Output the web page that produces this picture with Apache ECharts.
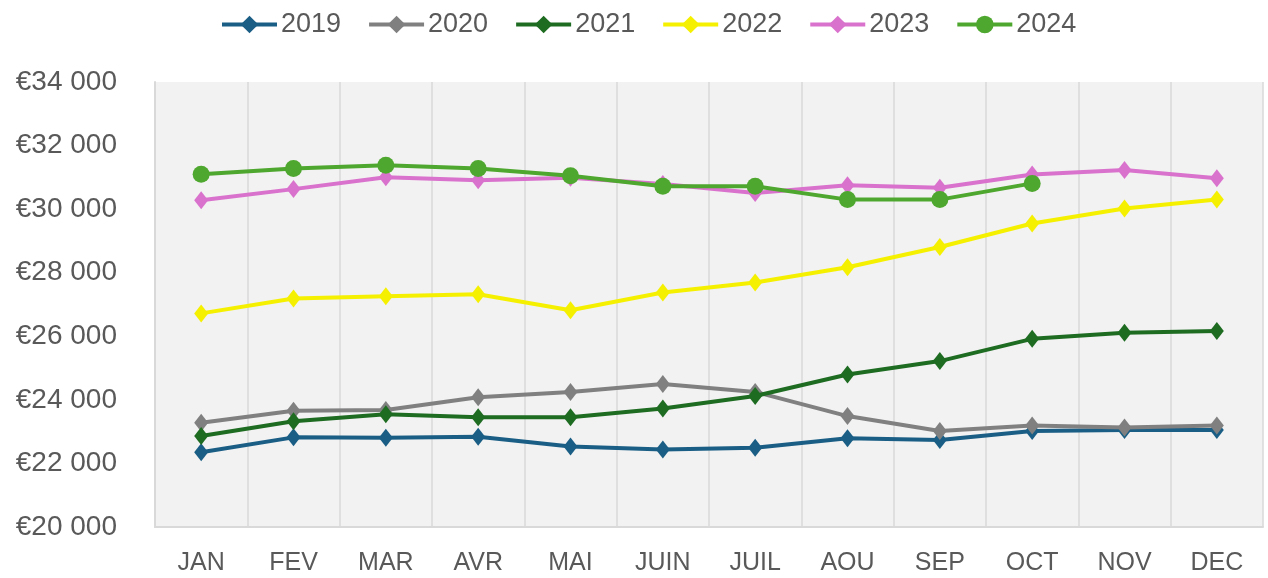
<!DOCTYPE html>
<html>
<head>
<meta charset="utf-8">
<script src="https://cdn.jsdelivr.net/npm/echarts@6/dist/echarts.min.js"></script>
<style>
  html, body { margin: 0; padding: 0; background: #fff; }
  #chart { width: 1268px; height: 578px; }
</style>
</head>
<body>
<div id="chart"></div>
<script>
const months = ['JAN', 'FEV', 'MAR', 'AVR', 'MAI', 'JUIN', 'JUIL', 'AOU', 'SEP', 'OCT', 'NOV', 'DEC'];
const years = ['2019', '2020', '2021', '2022', '2023', '2024'];

const values2019 = [22350, 22820, 22810, 22840, 22530, 22440, 22490, 22790, 22740, 23020, 23050, 23050];
const values2020 = [23280, 23660, 23680, 24080, 24250, 24500, 24250, 23490, 23020, 23190, 23130, 23190];
const values2021 = [22860, 23330, 23550, 23450, 23450, 23730, 24120, 24800, 25220, 25920, 26110, 26170];
const values2022 = [26720, 27190, 27260, 27320, 26820, 27380, 27690, 28170, 28810, 29550, 30020, 30300];
const values2023 = [30280, 30630, 31000, 30910, 30990, 30790, 30510, 30750, 30670, 31090, 31230, 30970];
const values2024 = [31100, 31280, 31380, 31280, 31050, 30720, 30720, 30300, 30300, 30810];

const yTicks = { min: 20000, max: 34000, interval: 2000 };

const colors = ['#1a5e85', '#808080', '#1e6b22', '#f5f000', '#d972cc', '#4ea72e'];
const allValues = [values2019, values2020, values2021, values2022, values2023, values2024];

const chart = echarts.init(document.getElementById('chart'));

const series = years.map((year, index) => {
  const isLast = index === years.length - 1;
  return {
    type: 'line',
    name: year,
    data: allValues[index],
    symbol: isLast ? 'circle' : 'diamond',
    symbolSize: isLast ? 17 : [14, 18],
    lineStyle: { width: 4, color: colors[index] },
    itemStyle: { color: colors[index] },
    z: 2 + index,
  };
});

const option = {
  color: colors,
  animation: false,
  textStyle: { fontFamily: 'Liberation Sans, Arial, sans-serif' },
  legend: {
    top: 6,
    left: 215,
    itemWidth: 55,
    itemHeight: 22,
    itemGap: 26,
    lineStyle: { width: 4 },
    textStyle: { fontSize: 27, color: '#595959', padding: [0, 0, 0, -1] },
    data: years,
  },
  grid: {
    left: 155,
    right: 5,
    top: 82,
    bottom: 51,
    show: true,
    backgroundColor: '#f2f2f2',
    borderWidth: 0,
  },
  xAxis: {
    type: 'category',
    data: months,
    boundaryGap: true,
    axisLine: { show: true, lineStyle: { color: '#d9d9d9', width: 2 } },
    axisTick: { show: false },
    splitLine: { show: true, lineStyle: { color: '#d9d9d9', width: 1.5 } },
    axisLabel: { fontSize: 25, color: '#595959', margin: 24 },
  },
  yAxis: {
    type: 'value',
    min: yTicks.min,
    max: yTicks.max,
    interval: yTicks.interval,
    axisLine: { show: true, lineStyle: { color: '#d9d9d9', width: 2 } },
    axisTick: { show: false },
    splitLine: { show: false },
    axisLabel: {
      fontSize: 28,
      color: '#595959',
      margin: 38,
      formatter: (value) => '€' + String(value).replace(/\B(?=(\d{3})+(?!\d))/g, ' '),
    },
  },
  series: series,
};

chart.setOption(option);
</script>
</body>
</html>
